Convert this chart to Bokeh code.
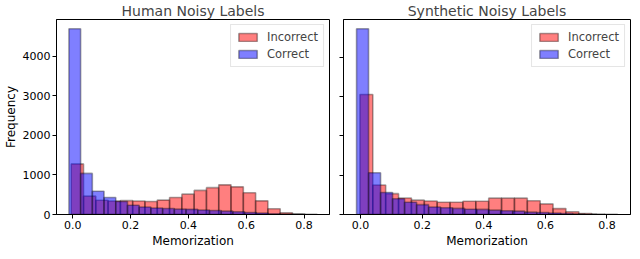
import numpy as np
from bokeh.plotting import figure
from bokeh.layouts import row
from bokeh.models import FixedTicker, PrintfTickFormatter, Range1d, Legend, LegendItem
from bokeh.embed import file_html
from bokeh.resources import INLINE

# ---- data ----
titles = ["Human Noisy Labels", "Synthetic Noisy Labels"]
series_names = ["Incorrect", "Correct"]

# Human noisy labels: histogram counts (20 bins each) and data min/max per series
human_incorrect_counts = [1280, 465, 360, 340, 350, 340, 330, 365, 430, 515, 610, 680, 750, 700, 550, 345, 145, 45, 15, 5]
human_incorrect_range = (-0.005, 0.845)
human_correct_counts = [4700, 1040, 590, 430, 330, 235, 190, 165, 150, 135, 130, 115, 100, 85, 70, 50, 35, 20, 10, 5]
human_correct_range = (-0.013, 0.797)

# Synthetic noisy labels
synth_incorrect_counts = [3050, 750, 530, 420, 365, 345, 310, 310, 335, 335, 415, 415, 415, 350, 270, 150, 70, 25, 10, 5]
synth_incorrect_range = (-0.002, 0.834)
synth_correct_counts = [4720, 1060, 560, 400, 310, 250, 192, 170, 155, 135, 130, 110, 95, 85, 60, 50, 35, 25, 15, 8]
synth_correct_range = (-0.013, 0.767)

x_ticks = [0.0, 0.2, 0.4, 0.6, 0.8]
y_ticks = [0, 1000, 2000, 3000, 4000]

FONT = "DejaVu Sans"
RED = "#ff0000"
BLUE = "#0000ff"


def edges(rng, n):
    return np.linspace(rng[0], rng[1], n + 1)


def panel(title, inc_counts, inc_range, cor_counts, cor_range, first, width, bl, br):
    xs_min = min(inc_range[0], cor_range[0])
    xs_max = max(inc_range[1], cor_range[1])
    pad = 0.05 * (xs_max - xs_min)
    ymax = max(max(inc_counts), max(cor_counts)) * 1.05
    p = figure(width=width, height=250, output_backend="svg", toolbar_location=None,
               x_range=Range1d(xs_min - pad, xs_max + pad), y_range=Range1d(0, ymax),
               min_border_left=bl, min_border_right=br, min_border_top=0, min_border_bottom=0)
    p.title.text = title
    p.title.align = "center"
    p.title.text_font = FONT
    p.title.text_font_size = "14px"
    p.title.text_font_style = "normal"
    p.title.standoff = 1
    p.title.offset = 0

    e1 = edges(inc_range, len(inc_counts))
    r1 = p.quad(left=e1[:-1], right=e1[1:], top=inc_counts, bottom=0,
                fill_color=RED, fill_alpha=0.5, line_color="black", line_alpha=0.35, line_width=1.6)
    e2 = edges(cor_range, len(cor_counts))
    r2 = p.quad(left=e2[:-1], right=e2[1:], top=cor_counts, bottom=0,
                fill_color=BLUE, fill_alpha=0.5, line_color="black", line_alpha=0.35, line_width=1.6)

    legend = Legend(items=[LegendItem(label=series_names[0], renderers=[r1]),
                           LegendItem(label=series_names[1], renderers=[r2])],
                    location="top_right")
    legend.label_text_font = FONT
    legend.label_text_font_size = "11.5px"
    legend.glyph_width = 23
    legend.glyph_height = 10
    legend.label_height = 14
    legend.spacing = 3
    legend.padding = 5
    legend.margin = 5
    legend.label_standoff = 8
    legend.border_line_color = "#cccccc"
    legend.border_line_width = 1
    legend.background_fill_alpha = 0.8
    p.add_layout(legend)

    p.grid.visible = False
    p.outline_line_color = "black"
    p.outline_line_width = 1
    p.outline_line_alpha = 1

    p.xaxis.ticker = FixedTicker(ticks=x_ticks)
    p.xaxis.formatter = PrintfTickFormatter(format="%.1f")
    p.yaxis.ticker = FixedTicker(ticks=y_ticks)
    for ax in (p.xaxis[0], p.yaxis[0]):
        ax.minor_tick_line_color = None
        ax.major_tick_in = 0
        ax.major_tick_out = 4
        ax.major_tick_line_color = "black"
        ax.axis_line_color = "black"
        ax.major_label_text_font = FONT
        ax.major_label_text_font_size = "11px"
        ax.major_label_text_color = "black"
        ax.axis_label_text_font = FONT
        ax.axis_label_text_font_size = "12px"
        ax.axis_label_text_font_style = "normal"
        ax.axis_label_text_color = "black"
    p.xaxis.major_label_standoff = 2
    p.xaxis.axis_label = "Memorization"
    p.xaxis.axis_label_standoff = 2
    if first:
        p.yaxis.axis_label = "Frequency"
        p.yaxis.major_label_standoff = 2
        p.yaxis.axis_label_standoff = 2
    else:
        # shared y axis: tick marks only, no labels
        p.yaxis.major_label_overrides = {t: "" for t in y_ticks}
        p.yaxis.major_label_standoff = 0
    return p


p1 = panel(titles[0], human_incorrect_counts, human_incorrect_range,
           human_correct_counts, human_correct_range, True, 336, 41, 7)
p2 = panel(titles[1], synth_incorrect_counts, synth_incorrect_range,
           synth_correct_counts, synth_correct_range, False, 295, 7, 1)

layout = row(p1, p2)
open("out.html", "w").write(file_html(layout, INLINE))
